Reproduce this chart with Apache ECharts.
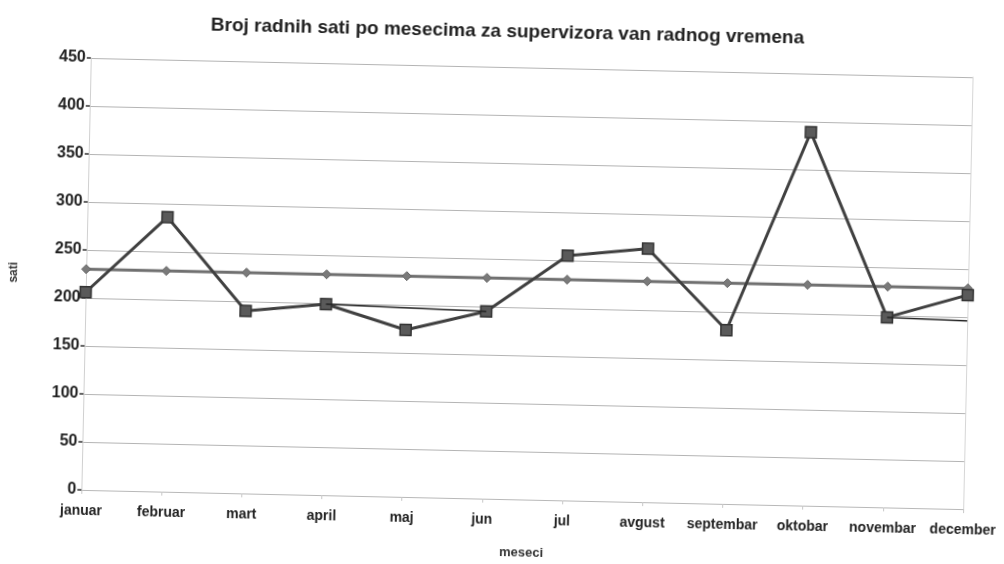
<!DOCTYPE html>
<html>
<head>
<meta charset="utf-8">
<script src="https://cdn.jsdelivr.net/npm/echarts@6/dist/echarts.min.js"></script>
<style>
  html, body { margin: 0; padding: 0; background: #fff; }
  #chart-box { width: 1004px; height: 564px; transform: rotate(1.25deg); transform-origin: 50% 50%; }
  #chart { width: 1004px; height: 564px; }
</style>
</head>
<body>
<div id="chart-box"><div id="chart"></div></div>
<script>
// meseci
var months = ["januar", "februar", "mart", "april", "maj", "jun", "jul", "avgust", "septembar", "oktobar", "novembar", "december"];
// sati po mesecima
var hours = [206, 286, 190, 199, 174, 195, 255, 264, 181, 389, 198, 223];
// prosek (linija sa rombovima)
var average = [230, 230, 230, 230, 230, 230, 230, 230, 230, 230, 230, 230];
// tanke linije koje se vide na skeniranoj slici
var thinA = [null, null, null, 199, null, 195, null, null, null, null, null, null];
var thinB = [null, null, null, null, null, null, null, null, null, null, 198, 196];
// y ose
var yMin = 0, yMax = 450, yStep = 50;

var font = "Liberation Sans, Arial, sans-serif";
var myChart = echarts.init(document.getElementById("chart"));
var option = {
  backgroundColor: "#fff",
  animation: false,
  title: {
    text: "Broj radnih sati po mesecima za supervizora van radnog vremena",
    left: "center",
    top: 17,
    textStyle: { fontFamily: font, fontSize: 19, fontWeight: "bold", color: "#222" }
  },
  grid: { left: 82, right: 32, top: 67, bottom: 65 },
  xAxis: {
    type: "category",
    data: months,
    boundaryGap: false,
    name: "meseci",
    nameLocation: "middle",
    nameGap: 47,
    nameTextStyle: { fontFamily: font, fontSize: 13, fontWeight: "bold", color: "#333" },
    axisLine: { lineStyle: { color: "#b8b8b8", width: 1 } },
    axisTick: { show: true, length: 4, lineStyle: { color: "#c8c8c8" } },
    axisLabel: { interval: 0, margin: 14, fontFamily: font, fontSize: 14, fontWeight: "bold", color: "#222" },
    splitLine: { show: false }
  },
  yAxis: [
    {
      type: "value",
      min: yMin,
      max: yMax,
      interval: yStep,
      name: "sati",
      nameLocation: "middle",
      nameGap: 66,
      nameTextStyle: { fontFamily: font, fontSize: 12, fontWeight: "bold", color: "#333" },
      axisLine: { show: true, lineStyle: { color: "#d0d0d0" } },
      axisTick: { show: true, length: 4, lineStyle: { color: "#333", width: 1.5 } },
      axisLabel: { margin: 5, fontFamily: font, fontSize: 16, fontWeight: "bold", color: "#222" },
      splitLine: { lineStyle: { color: "#b4b4b4", width: 1.2 } }
    },
    {
      type: "value",
      min: yMin,
      max: yMax,
      interval: yStep,
      position: "right",
      axisLine: { show: true, lineStyle: { color: "#d6d6d6" } },
      axisTick: { show: false },
      axisLabel: { show: false },
      splitLine: { show: false }
    }
  ],
  series: [
    {
      name: "prosek",
      type: "line",
      data: average,
      symbol: "diamond",
      symbolSize: 9,
      z: 2,
      lineStyle: { color: "#707070", width: 3 },
      itemStyle: { color: "#7a7a7a", borderColor: "#666", borderWidth: 1 }
    },
    {
      name: "sati",
      type: "line",
      data: hours,
      symbol: "rect",
      symbolSize: 11,
      z: 3,
      lineStyle: { color: "#404040", width: 3 },
      itemStyle: { color: "#5a5a5a", borderColor: "#333", borderWidth: 1.5 }
    },
    {
      name: "a",
      type: "line",
      data: thinA,
      connectNulls: true,
      symbol: "none",
      z: 4,
      lineStyle: { color: "#222", width: 1.5 }
    },
    {
      name: "b",
      type: "line",
      data: thinB,
      symbol: "none",
      z: 4,
      lineStyle: { color: "#222", width: 1.5 }
    }
  ]
};
option && myChart.setOption(option);
</script>
</body>
</html>
